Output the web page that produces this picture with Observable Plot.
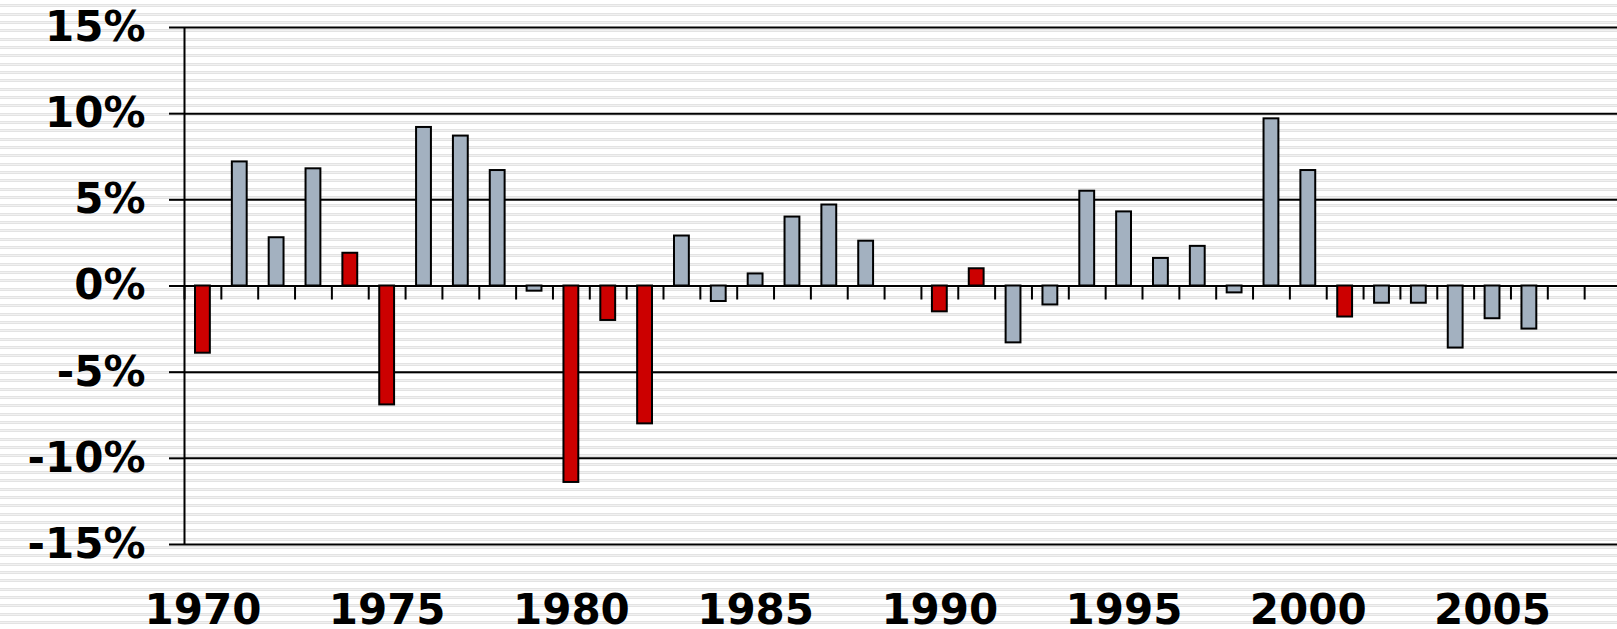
<!DOCTYPE html>
<html><head><meta charset="utf-8">
<script src="https://cdn.jsdelivr.net/npm/d3@7"></script>
<script src="https://cdn.jsdelivr.net/npm/@observablehq/plot@0.6"></script>
<style>
html,body{margin:0;padding:0;width:1617px;height:629px;overflow:hidden;}
body{background: repeating-linear-gradient(to bottom, #ffffff 0px, #ffffff 4.3px, #e3e3e3 4.3px, #e3e3e3 5.5px, #f1f1f1 5.5px, #f1f1f1 6.4px, #e3e3e3 6.4px, #e3e3e3 7.4px, #ffffff 7.4px, #ffffff 8.333px);}
#chart svg{background:transparent;}
</style></head><body><div id="chart"></div>
<script>
const years = [1970,1971,1972,1973,1974,1975,1976,1977,1978,1979,1980,1981,1982,1983,1984,1985,1986,1987,1988,1989,1990,1991,1992,1993,1994,1995,1996,1997,1998,1999,2000,2001,2002,2003,2004,2005,2006];
const growth = [-3.9,7.2,2.8,6.8,1.9,-6.9,9.2,8.7,6.7,-0.3,-11.4,-2.0,-8.0,2.9,-0.9,0.7,4.0,4.7,2.6,null,-1.5,1.0,-3.3,-1.1,5.5,4.3,1.6,2.3,-0.4,9.7,6.7,-1.8,-1.0,-1.0,-3.6,-1.9,-2.5];
const recessionYears = [1970,1974,1975,1980,1981,1982,1990,1991,2001];
const yTicks = [-15,-10,-5,0,5,10,15];
const xLabels = [1970,1975,1980,1985,1990,1995,2000,2005];
const xDomain = [1969.5, 2008.5];
const colors = {normal: "#a3b1c0", recession: "#cc0000"};

const data = years.map((year, i) => ({year, value: growth[i], recession: recessionYears.includes(year)}));
const bounds = d3.range(xDomain[0], xDomain[1] + 0.5, 1);

const chart = Plot.plot({
  width: 1617,
  height: 629,
  marginLeft: 184,
  marginRight: 0,
  marginTop: 27,
  marginBottom: 85,
  style: {background: "transparent", fontFamily: "'DejaVu Sans', sans-serif", fontWeight: "bold", fontSize: "42px", color: "black", overflow: "visible", maxWidth: "none"},
  x: {domain: xDomain, range: [184, 1621]},
  y: {domain: [-15, 15]},
  marks: [
    Plot.ruleY(yTicks, {stroke: "black", strokeWidth: 2}),
    Plot.ruleX([xDomain[0]], {stroke: "black", strokeWidth: 2}),
    Plot.ruleX(bounds, {y1: 0, y2: 0, insetBottom: -14, stroke: "black", strokeWidth: 2}),
    Plot.rectY(data, {
      x1: d => d.year - 0.5,
      x2: d => d.year + 0.5,
      y: "value",
      insetLeft: 11,
      insetRight: 11,
      fill: d => d.recession ? colors.recession : colors.normal,
      stroke: "black",
      strokeWidth: 2
    }),
    Plot.axisY({ticks: yTicks, tickFormat: d => `${d}%`, tickSize: 15, tickPadding: 24, strokeWidth: 2, fontSize: 42, fontWeight: "bold", label: null}),
    Plot.axisX({ticks: xLabels, tickFormat: d => String(d), tickSize: 0, tickPadding: 50, fontSize: 42, fontWeight: "bold", label: null})
  ]
});
document.getElementById("chart").appendChild(chart);
</script>
</body></html>
